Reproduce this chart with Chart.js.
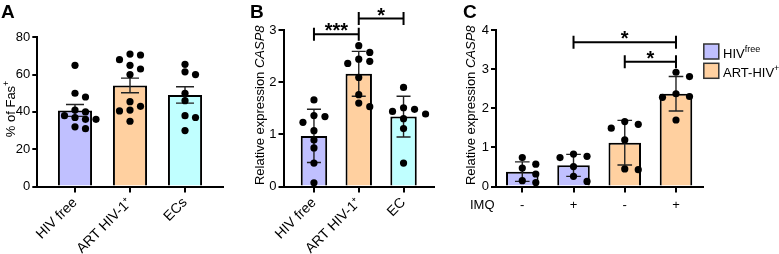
<!DOCTYPE html>
<html>
<head>
<meta charset="utf-8">
<script src="https://cdn.jsdelivr.net/npm/chart.js@4.4.1/dist/chart.umd.min.js"></script>
<style>
  body { margin: 0; background: #fff; }
  #wrap { position: relative; width: 779px; height: 254px; }
  canvas { position: absolute; top: 0; }
</style>
</head>
<body>
<div id="wrap">
  <canvas id="panelA" width="245" height="254" style="left:0px"></canvas>
  <canvas id="panelB" width="215" height="254" style="left:245px"></canvas>
  <canvas id="panelC" width="319" height="254" style="left:460px"></canvas>
</div>
<script>
// ---- data ----
// A: % of Fas+ cells (mean +/- SEM)
const groupsA = ['HIV free', 'ART HIV-1⁺', 'ECs'];
const meanA = [40.8, 54.2, 49.1];
const semA = [3.2, 3.9, 4.4];
const hivFreeA = [65, 50, 48, 41, 40, 38, 37, 36, 36, 32, 31];
const artA = [71, 70.5, 68, 65, 63, 60, 45.5, 43, 41, 40.5, 35];
const ecsA = [65.5, 61.5, 60, 50, 46, 38, 37, 30];

// B: relative CASP8 expression (mean +/- SD)
const groupsB = ['HIV free', 'ART HIV-1⁺', 'EC'];
const meanB = [0.97, 2.16, 1.34];
const sdB = [0.51, 0.43, 0.39];
const hivFreeB = [1.66, 1.36, 1.34, 1.23, 1.07, 0.89, 0.74, 0.45, 0.07];
const artB = [2.70, 2.57, 2.44, 2.40, 2.36, 2.09, 1.76, 1.60, 1.53];
const ecB = [1.90, 1.51, 1.48, 1.44, 1.39, 1.30, 1.11, 0.45];
const sigB = [[0, 1, '***'], [1, 2, '*']];

// C: relative CASP8 expression with/without IMQ (mean +/- SD)
const imqC = ['-', '+', '-', '+'];
const meanC = [0.38, 0.54, 1.12, 2.37];
const sdC = [0.25, 0.28, 0.57, 0.44];
const freeMinusC = [0.74, 0.57, 0.47, 0.32, 0.15, 0.10];
const freePlusC = [0.83, 0.77, 0.74, 0.51, 0.26, 0.13];
const artMinusC = [1.66, 1.59, 1.49, 1.19, 0.45, 0.43];
const artPlusC = [2.92, 2.81, 2.37, 2.30, 2.28, 1.70];
const sigC = [[1, 3, '*'], [2, 3, '*']];

// ---- look ----
const FONT = "'Liberation Sans', Arial, Helvetica, sans-serif";
const LAV = '#C0C0FF', PEACH = '#FFD0A0', CYAN = '#C0FFFF';
Chart.defaults.font.family = FONT;
Chart.defaults.color = '#000';

// spread dots sideways when they overlap (like a scatter dot plot)
function swarm(values, center, pxY, pxX, step) {
  const placed = [];
  const out = [];
  const order = values.map((v, i) => i).sort((a, b) => values[b] - values[a]);
  for (const i of order) {
    const y = values[i] * pxY;
    for (let k = 0; k < 20; k++) {
      const off = k === 0 ? 0 : (k % 2 ? 1 : -1) * Math.ceil(k / 2) * step;
      if (!placed.some(p => Math.abs(p.y - y) < 7 && Math.abs(p.off - off) < step * 0.9)) {
        placed.push({ y, off });
        out.push({ x: center + off / pxX, y: values[i] });
        break;
      }
    }
  }
  return out;
}

function richText(ctx, parts, x, y, size, align) {
  const fontOf = p => p[1] === 'sup' ? Math.round(size * 0.66) + 'px ' + FONT
    : (p[1] === 'i' ? 'italic ' : '') + size + 'px ' + FONT;
  let w = 0;
  parts.forEach(p => { ctx.font = fontOf(p); w += ctx.measureText(p[0]).width; });
  let cx = align === 'center' ? x - w / 2 : x;
  ctx.textAlign = 'left';
  ctx.textBaseline = 'alphabetic';
  parts.forEach(p => {
    ctx.font = fontOf(p);
    ctx.fillText(p[0], cx, y + (p[1] === 'sup' ? -size * 0.45 : 0));
    cx += ctx.measureText(p[0]).width;
  });
}

function makePanel(p) {
  const dots = [];
  p.dots.forEach((vals, i) => dots.push(...swarm(vals, i, p.pxY, p.pxX, p.dotStep)));

  const extras = {
    id: 'extras' + p.id,
    afterDatasetDraw(chart, args) {
      if (args.index !== 1) return;
      const xs = chart.scales.x, ys = chart.scales.y, ctx = chart.ctx;
      ctx.save();
      ctx.strokeStyle = '#222';
      ctx.lineWidth = 1.4;
      p.means.forEach((m, i) => {
        const px = xs.getPixelForValue(i);
        const t = ys.getPixelForValue(m + p.errs[i]);
        const b = ys.getPixelForValue(m - p.errs[i]);
        ctx.beginPath();
        ctx.moveTo(px, t); ctx.lineTo(px, b);
        ctx.moveTo(px - p.cap, t); ctx.lineTo(px + p.cap, t);
        ctx.moveTo(px - p.cap, b); ctx.lineTo(px + p.cap, b);
        ctx.stroke();
      });
      ctx.restore();
    },
    afterDraw(chart) {
      const xs = chart.scales.x, ys = chart.scales.y, ctx = chart.ctx;
      const area = chart.chartArea;
      ctx.save();
      ctx.fillStyle = '#000';
      ctx.strokeStyle = '#000';
      // panel letter
      ctx.font = 'bold 19px ' + FONT;
      ctx.textAlign = 'left';
      ctx.textBaseline = 'alphabetic';
      ctx.fillText(p.letter, p.letterX, 18);
      // y title
      ctx.save();
      ctx.translate(p.titleX, (area.top + area.bottom) / 2 - 3);
      ctx.rotate(-Math.PI / 2);
      richText(ctx, p.title, 0, 4.5, 13, 'center');
      ctx.restore();
      // significance brackets
      (p.sig || []).forEach((s, j) => {
        const x1 = xs.getPixelForValue(s[0]), x2 = xs.getPixelForValue(s[1]);
        const yy = ys.getPixelForValue(p.sigLevels[j]);
        ctx.lineWidth = 2;
        ctx.beginPath();
        ctx.moveTo(x1, yy - 6.5); ctx.lineTo(x1, yy + 6.5);
        ctx.moveTo(x2, yy - 6.5); ctx.lineTo(x2, yy + 6.5);
        ctx.moveTo(x1, yy); ctx.lineTo(x2, yy);
        ctx.stroke();
        ctx.font = 'bold 20px ' + FONT;
        ctx.textAlign = 'center';
        const m = ctx.measureText(s[2]);
        ctx.fillText(s[2], (x1 + x2) / 2, yy - 3 - m.actualBoundingBoxDescent);
      });
      if (p.after) p.after(ctx, chart);
      ctx.restore();
    }
  };

  return new Chart(document.getElementById(p.id), {
    type: 'bar',
    data: {
      datasets: [
        {
          type: 'scatter',
          data: dots,
          pointRadius: 3.6,
          pointBackgroundColor: '#000',
          pointBorderWidth: 0,
          clip: false
        },
        {
          type: 'bar',
          data: p.means.map((m, i) => ({ x: i, y: m })),
          backgroundColor: p.colors,
          borderColor: '#000',
          borderWidth: 2,
          categoryPercentage: 1,
          barPercentage: p.barFrac
        }
      ]
    },
    options: {
      responsive: false,
      animation: false,
      devicePixelRatio: 1,
      events: [],
      layout: { padding: { top: p.padTop, right: p.padRight, left: 0, bottom: 0 } },
      plugins: { legend: { display: false }, tooltip: { enabled: false } },
      scales: {
        x: {
          type: 'linear',
          min: p.xMin,
          max: p.xMax,
          offset: false,
          afterBuildTicks: s => { s.ticks = p.labels.map((l, i) => ({ value: i })); },
          afterFit: s => { s.height = 67.5; },
          border: { display: true, color: '#000', width: 2 },
          grid: { offset: false, drawOnChartArea: false, drawTicks: true, tickLength: 6,
                  tickWidth: 2, tickColor: '#000', color: '#000', lineWidth: 2 },
          ticks: {
            autoSkip: false,
            minRotation: p.rot, maxRotation: p.rot,
            padding: p.rot ? 2 : 5,
            color: '#000',
            font: { size: p.rot ? 14 : 13 },
            callback: v => p.labels[v]
          }
        },
        y: {
          type: 'linear',
          min: 0,
          max: p.yMax,
          afterFit: s => { s.width = p.yAxisW; },
          border: { display: true, color: '#000', width: 2 },
          grid: { drawOnChartArea: false, drawTicks: true, tickLength: 5,
                  tickWidth: 2, tickColor: '#000', color: '#000', lineWidth: 2 },
          ticks: { stepSize: p.yStep, padding: 2, color: '#000', font: { size: 13 } }
        }
      }
    },
    plugins: [extras]
  });
}

makePanel({
  id: 'panelA', letter: 'A', letterX: 1, titleX: 10,
  title: [['% of Fas', ''], ['+', 'sup']],
  labels: groupsA, means: meanA, errs: semA,
  dots: [hivFreeA, artA, ecsA], colors: [LAV, PEACH, CYAN],
  xMin: -0.685, xMax: 2.685, yMax: 80, yStep: 20,
  padTop: 37.3, padRight: 22.3, yAxisW: 37.3,
  pxX: 55, pxY: 149.2 / 80, dotStep: 10.5, barFrac: 0.62, cap: 9, rot: 45
});

makePanel({
  id: 'panelB', letter: 'B', letterX: 5, titleX: 14,
  title: [['Relative expression ', ''], ['CASP8', 'i']],
  labels: groupsB, means: meanB, errs: sdB,
  dots: [hivFreeB, artB, ecB], colors: [LAV, PEACH, CYAN],
  sig: sigB, sigLevels: [2.92, 3.22],
  xMin: -0.68, xMax: 2.68, yMax: 3, yStep: 1,
  padTop: 30, padRight: 26, yAxisW: 38.5,
  pxX: 44.75, pxY: 156.5 / 3, dotStep: 11, barFrac: 0.59, cap: 7, rot: 45
});

makePanel({
  id: 'panelC', letter: 'C', letterX: 3, titleX: 10,
  title: [['Relative expression ', ''], ['CASP8', 'i']],
  labels: imqC, means: meanC, errs: sdC,
  dots: [freeMinusC, freePlusC, artMinusC, artPlusC], colors: [LAV, LAV, PEACH, PEACH],
  sig: sigC, sigLevels: [3.69, 3.19],
  xMin: -0.513, xMax: 3.533, yMax: 4, yStep: 1,
  padTop: 30, padRight: 75.7, yAxisW: 36,
  pxX: 51.2, pxY: 156.5 / 4, dotStep: 13.5, barFrac: 0.635, cap: 7.3, rot: 0,
  after(ctx) {
    ctx.font = '13px ' + FONT;
    ctx.textAlign = 'left';
    ctx.textBaseline = 'middle';
    ctx.fillText('IMQ', 10, 205);
    const legend = [[LAV, [['HIV', ''], ['free', 'sup']]], [PEACH, [['ART-HIV', ''], ['+', 'sup']]]];
    legend.forEach((item, i) => {
      const top = 44 + i * 19.3;
      ctx.fillStyle = item[0];
      ctx.fillRect(243.8, top, 15, 15);
      ctx.strokeStyle = '#333';
      ctx.lineWidth = 1.5;
      ctx.strokeRect(243.8, top, 15, 15);
      ctx.fillStyle = '#000';
      richText(ctx, item[1], 263, top + 14, 13, 'left');
    });
  }
});
</script>
</body>
</html>
